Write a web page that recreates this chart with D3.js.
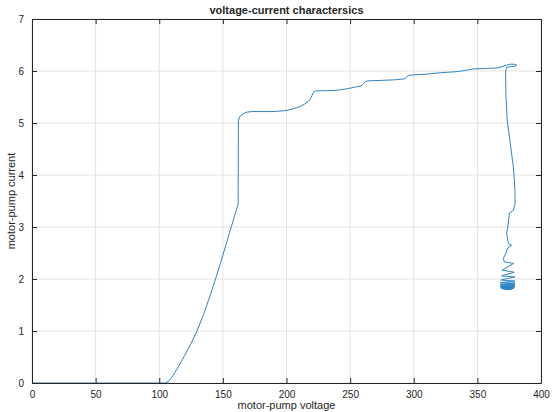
<!DOCTYPE html>
<html>
<head>
<meta charset="utf-8">
<script src="https://cdn.jsdelivr.net/npm/d3@7"></script>
<style>
  body { margin: 0; background: #fff; }
  text { font-family: "Liberation Sans", Arial, sans-serif; fill: #262626; }
</style>
</head>
<body>
<script>
// motor-pump voltage (x) and current (y)
const voltage = [
  0, 105, 108, 111, 114, 117, 120, 125, 130, 135,
  140, 145, 150, 155, 160, 162, 162.2, 163.5, 166, 169,
  173, 180, 190, 200, 205, 210, 214, 217, 218.5, 220,
  221.5, 223, 230, 240, 248, 254, 258, 260, 262, 264,
  275, 285, 293, 295, 297, 310, 323, 335, 347, 358,
  366, 371.5, 375.5, 379, 381, 379, 375.5, 373, 372.3, 372.2,
  372.5, 373.5, 375.6, 378.3, 379.6, 379.6, 378.3, 375.2, 373.9, 373,
  374.4, 377, 374, 372.5, 370.5, 371, 378.5, 369.5, 379, 369,
  379.5, 368.5, 379.5, 368, 379.6, 368, 379.5, 368, 379.4, 368.2,
  379.2, 368.3, 379, 368.5, 378.8, 369, 378.5, 369.5, 378, 370,
  377.5, 371, 377, 372, 376, 373, 375
];
const current = [
  0, 0, 0.05, 0.15, 0.27, 0.4, 0.53, 0.76, 1.02, 1.33,
  1.68, 2.06, 2.46, 2.87, 3.28, 3.44, 5.05, 5.13, 5.18, 5.21,
  5.22, 5.22, 5.22, 5.24, 5.27, 5.31, 5.36, 5.41, 5.45, 5.53,
  5.6, 5.62, 5.62, 5.63, 5.66, 5.69, 5.71, 5.74, 5.8, 5.81,
  5.82, 5.83, 5.85, 5.9, 5.92, 5.94, 5.97, 5.99, 6.04, 6.05,
  6.06, 6.1, 6.13, 6.13, 6.11, 6.09, 6.08, 6.07, 6.0, 5.9,
  5.5, 5.04, 4.66, 4.15, 3.7, 3.44, 3.32, 3.27, 3.0, 2.87,
  2.68, 2.65, 2.6, 2.5, 2.4, 2.33, 2.3, 2.17, 2.13, 2.06,
  2.04, 1.98, 1.96, 1.93, 1.92, 1.9, 1.89, 1.87, 1.87, 1.85,
  1.85, 1.84, 1.84, 1.83, 1.83, 1.82, 1.82, 1.82, 1.82, 1.81,
  1.81, 1.81, 1.81, 1.8, 1.8, 1.8, 1.81
];
const xTicks = [0, 50, 100, 150, 200, 250, 300, 350, 400];
const yTicks = [0, 1, 2, 3, 4, 5, 6, 7];

const width = 553, height = 412;
const margin = { top: 19, right: 12, bottom: 29, left: 32 };
const plotW = width - margin.left - margin.right;
const plotH = height - margin.top - margin.bottom;

const svg = d3.select('body').append('svg').attr('width', width).attr('height', height);
const g = svg.append('g').attr('transform', `translate(${margin.left},${margin.top})`);

const x = d3.scaleLinear().domain([0, 400]).range([0, plotW]);
const y = d3.scaleLinear().domain([0, 7]).range([plotH, 0]);

// grid
g.selectAll('line.vgrid').data(xTicks).enter().append('line')
  .attr('x1', d => x(d)).attr('x2', d => x(d))
  .attr('y1', 0).attr('y2', plotH)
  .attr('stroke', '#e3e3e3').attr('stroke-width', 1);
g.selectAll('line.hgrid').data(yTicks).enter().append('line')
  .attr('x1', 0).attr('x2', plotW)
  .attr('y1', d => y(d)).attr('y2', d => y(d))
  .attr('stroke', '#e3e3e3').attr('stroke-width', 1);

// data line
const line = d3.line().x(d => x(d[0])).y(d => y(d[1]));
g.append('path')
  .datum(voltage.map((v, i) => [v, current[i]]))
  .attr('d', line)
  .attr('fill', 'none')
  .attr('stroke', '#2f84c4')
  .attr('stroke-width', 1);

// axes, ticks inside on all four sides (box on)
const tickLen = 5;
g.append('g').attr('transform', `translate(0,${plotH})`)
  .call(d3.axisBottom(x).tickValues(xTicks).tickSize(-tickLen).tickPadding(8).tickSizeOuter(0));
g.append('g')
  .call(d3.axisLeft(y).tickValues(yTicks).tickFormat(d3.format('d')).tickSize(-tickLen).tickPadding(8).tickSizeOuter(0));
g.append('g')
  .call(d3.axisTop(x).tickValues(xTicks).tickSize(-tickLen).tickFormat('').tickSizeOuter(0));
g.append('g').attr('transform', `translate(${plotW},0)`)
  .call(d3.axisRight(y).tickValues(yTicks).tickSize(-tickLen).tickFormat('').tickSizeOuter(0));

g.selectAll('.domain').attr('stroke', '#262626');
g.selectAll('.tick line').attr('stroke', '#262626');
g.selectAll('.tick text').attr('font-size', 10).attr('fill', '#262626')
  .style('font-family', '"Liberation Sans", Arial, sans-serif');

// labels
svg.append('text')
  .attr('x', margin.left + plotW / 2).attr('y', 14)
  .attr('text-anchor', 'middle').attr('font-size', 11).attr('font-weight', 'bold')
  .text('voltage-current charactersics');

svg.append('text')
  .attr('x', margin.left + plotW / 2).attr('y', 409)
  .attr('text-anchor', 'middle').attr('font-size', 11)
  .text('motor-pump voltage');

svg.append('text')
  .attr('transform', `translate(15,${margin.top + plotH / 2}) rotate(-90)`)
  .attr('text-anchor', 'middle').attr('font-size', 11)
  .text('motor-pump current');
</script>
</body>
</html>
